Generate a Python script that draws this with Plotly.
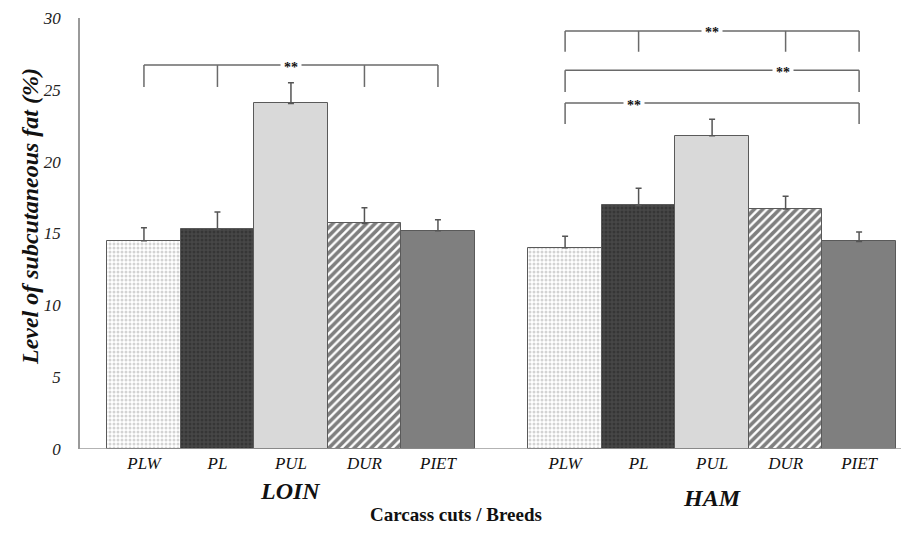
import plotly.graph_objects as go

# ---- data ----
breeds = ["PLW", "PL", "PUL", "DUR", "PIET"]
cuts = ["LOIN", "HAM"]
loin_mean = [14.5, 15.3, 24.05, 15.7, 15.2]
loin_se = [0.9, 1.2, 1.45, 1.1, 0.75]
ham_mean = [14.0, 16.95, 21.8, 16.7, 14.45]
ham_se = [0.8, 1.2, 1.15, 0.9, 0.65]
y_ticks = [0, 5, 10, 15, 20, 25, 30]

# ---- layout helpers ----
group_gap = 0.73
loin_x = [i for i in range(len(breeds))]
ham_x = [len(breeds) + group_gap + i for i in range(len(breeds))]

styles = {
    "PLW": dict(color="white", pattern=dict(shape=".", bgcolor="white", fgcolor="#a8a8a8", size=4, solidity=0.45)),
    "PL": dict(color="#3c3c3c", pattern=dict(shape=".", bgcolor="#474747", fgcolor="#262626", size=4, solidity=0.45)),
    "PUL": dict(color="#d9d9d9", pattern=dict(shape="")),
    "DUR": dict(color="white", pattern=dict(shape="/", bgcolor="white", fgcolor="#000000", size=6, solidity=0.6)),
    "PIET": dict(color="#7f7f7f", pattern=dict(shape="")),
}

serif = "Liberation Serif, Times New Roman, serif"

fig = go.Figure()
for i, b in enumerate(breeds):
    st = styles[b]
    fig.add_trace(go.Bar(
        x=[loin_x[i], ham_x[i]],
        y=[loin_mean[i], ham_mean[i]],
        width=1.0,
        marker=dict(color=st["color"], pattern=st["pattern"],
                    line=dict(color="#5a5a5a", width=1)),
        error_y=dict(type="data", symmetric=False,
                     array=[loin_se[i], ham_se[i]], arrayminus=[0, 0],
                     color="#555555", thickness=1.5, width=3),
        name=b, showlegend=False,
    ))

shapes = []
annotations = []

def bracket(xs, y_top, y_drop, star_x):
    x0, x1 = xs[0], xs[-1]
    shapes.append(dict(type="line", xref="x", yref="y", x0=x0, x1=x1, y0=y_top, y1=y_top,
                       line=dict(color="#6a6a6a", width=1.5)))
    for xv in xs:
        shapes.append(dict(type="line", xref="x", yref="y", x0=xv, x1=xv, y0=y_top, y1=y_drop,
                           line=dict(color="#6a6a6a", width=1.5)))
    annotations.append(dict(x=star_x, y=y_top, xref="x", yref="y", text="<b>**</b>",
                            xanchor="center", yanchor="middle",
                            showarrow=False, bgcolor="white", borderpad=3,
                            font=dict(family=serif, size=14, color="#111"),
                            yshift=-2))

# LOIN bracket
bracket([loin_x[0], loin_x[1], loin_x[3], loin_x[4]], 26.72, 25.2, loin_x[2])
# HAM brackets
bracket([ham_x[0], ham_x[1], ham_x[3], ham_x[4]], 29.1, 27.65, ham_x[2])
bracket([ham_x[0], ham_x[4]], 26.37, 24.85, ham_x[3] - 0.03)
bracket([ham_x[0], ham_x[4]], 24.08, 22.62, ham_x[1] - 0.06)

# plot area is 431 px tall (18..449 in the page), 821 px wide (80..901)
PH, PW = 431.0, 821.0
annotations.append(dict(x=loin_x[2], y=(449 - 491) / PH, xref="x", yref="paper",
                        text="<b><i>LOIN</i></b>", xanchor="center", yanchor="middle",
                        showarrow=False, font=dict(family=serif, size=24, color="#111")))
annotations.append(dict(x=ham_x[2], y=(449 - 498) / PH, xref="x", yref="paper",
                        text="<b><i>HAM</i></b>", xanchor="center", yanchor="middle",
                        showarrow=False, font=dict(family=serif, size=24, color="#111")))
annotations.append(dict(x=(456 - 80) / PW, y=(449 - 514) / PH, xref="paper", yref="paper",
                        text="<b>Carcass cuts / Breeds</b>", xanchor="center", yanchor="middle",
                        showarrow=False, font=dict(family=serif, size=19, color="#111")))
annotations.append(dict(x=(30 - 80) / PW, y=(449 - 217) / PH, xref="paper", yref="paper",
                        text="<b><i>Level of subcutaneous fat (%)</i></b>", textangle=-90,
                        xanchor="center", yanchor="middle",
                        showarrow=False, font=dict(family=serif, size=24, color="#111")))

# page body adds an 8 px offset, so the figure is 905x519 placed at (8, 8)
fig.update_layout(
    width=905, height=519,
    margin=dict(l=72, r=12, t=10, b=78, autoexpand=False),
    plot_bgcolor="white", paper_bgcolor="white",
    barmode="overlay", bargap=0,
    shapes=shapes, annotations=annotations,
    xaxis=dict(range=[-0.87, 10.3], tickmode="array", automargin=False,
               tickvals=loin_x + ham_x, ticktext=[f"<i>{b}</i>" for b in breeds + breeds],
               showgrid=False, zeroline=False, showline=False, ticks="",
               tickfont=dict(family=serif, size=17, color="#111"),
               ticklabelstandoff=2),
    yaxis=dict(range=[0, 30], tickmode="array", tickvals=y_ticks, automargin=False,
               ticktext=[f"<i>{v}</i>" for v in y_ticks],
               showgrid=False, zeroline=False, showline=True, linecolor="#9a9a9a", linewidth=1.5,
               ticks="", tickfont=dict(family=serif, size=17, color="#222"),
               ticklabelstandoff=14),
)
# x-axis baseline
fig.add_shape(type="line", xref="paper", yref="y", x0=0, x1=1, y0=0, y1=0,
              line=dict(color="#9a9a9a", width=1.5))

fig.write_html("out.html")
